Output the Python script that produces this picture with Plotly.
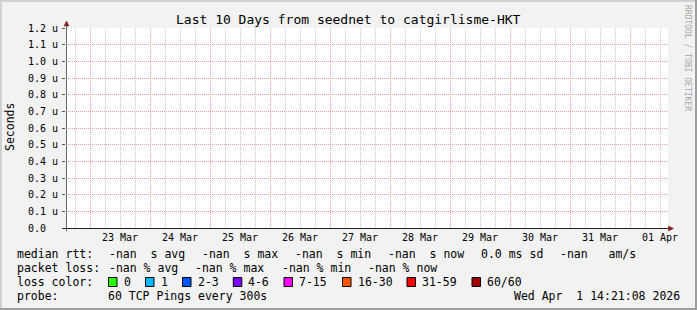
import plotly.graph_objects as go

# ---------------- data ----------------
title = "Last 10 Days from seednet to catgirlisme-HKT"
y_title = "Seconds"
watermark = "RRDTOOL / TOBI OETIKER"

day_starts = ["2026-03-23", "2026-03-24", "2026-03-25", "2026-03-26", "2026-03-27",
              "2026-03-28", "2026-03-29", "2026-03-30", "2026-03-31", "2026-04-01"]
day_labels = ["23 Mar", "24 Mar", "25 Mar", "26 Mar", "27 Mar",
              "28 Mar", "29 Mar", "30 Mar", "31 Mar", "01 Apr"]
x_start = "2026-03-22 14:24"
x_end = "2026-04-01 15:12"
minor_hours = ["06:00", "12:00", "18:00"]

y_tick_values = [0.0, 0.1e-6, 0.2e-6, 0.3e-6, 0.4e-6, 0.5e-6, 0.6e-6,
                 0.7e-6, 0.8e-6, 0.9e-6, 1.0e-6, 1.1e-6, 1.2e-6]
y_tick_labels = ["0.0  ", "0.1 u", "0.2 u", "0.3 u", "0.4 u", "0.5 u", "0.6 u",
                 "0.7 u", "0.8 u", "0.9 u", "1.0 u", "1.1 u", "1.2 u"]

# median RTT samples: all "-nan" in the source
rtt_times = ["2026-03-23", "2026-03-25", "2026-03-27", "2026-03-29", "2026-03-31"]
median_rtt = [None, None, None, None, None]

rtt_heading = "median rtt:"
rtt_stats = ["-nan  s avg", "-nan  s max", "-nan  s min", "-nan  s now", "0.0 ms sd", "-nan   am/s"]
loss_heading = "packet loss:"
loss_stats = ["-nan % avg", "-nan % max", "-nan % min", "-nan % now"]
color_heading = "loss color:"
loss_labels = ["0", "1", "2-3", "4-6", "7-15", "16-30", "31-59", "60/60"]
loss_colors = ["#26ff00", "#00b8ff", "#0059ff", "#7e00ff", "#ff00ff", "#ff5500", "#ff0000", "#a10000"]
probe_heading = "probe:"
probe_text = "60 TCP Pings every 300s"
timestamp = "Wed Apr  1 14:21:08 2026"

# ---------------- layout helpers ----------------
W, H = 697, 310
L, R, T, B = 66, 668, 28, 228
MONO = "DejaVu Sans Mono"
MINOR_GRID = "#c8c8c8"
MAJOR_GRID = "#f0a0a0"


def px(x):
    return (x - L) / (R - L)


def py(y):
    return (B - y) / (B - T)


def keep_spaces(s):
    return s.replace("  ", "\u00a0\u00a0")


# 6-hourly grid times, skipping the midnights (which get the red day grid)
minor_times = ["2026-03-22 18:00"] + [d + " " + h for d in day_starts for h in minor_hours]

fig = go.Figure()
fig.add_trace(go.Scatter(x=rtt_times, y=median_rtt, mode="lines",
                         line=dict(color="#000000", width=1), showlegend=False,
                         hoverinfo="skip", xaxis="x", yaxis="y"))
fig.add_trace(go.Scatter(x=[day_starts[0] + " 12:00"], y=[None], mode="markers",
                         showlegend=False, hoverinfo="skip", xaxis="x2", yaxis="y"))
fig.add_trace(go.Scatter(x=[day_starts[0]], y=[None], mode="markers",
                         showlegend=False, hoverinfo="skip", xaxis="x3", yaxis="y"))

fig.update_layout(
    width=W, height=H,
    margin=dict(l=L, r=W - R, t=T, b=H - B, pad=0),
    paper_bgcolor="#f2f2f2",
    plot_bgcolor="#ffffff",
    showlegend=False,
    # 6-hour minor grid (gray)
    xaxis=dict(
        type="date", range=[x_start, x_end],
        tickvals=minor_times,
        showgrid=True, gridcolor=MINOR_GRID, griddash="1px,1px", gridwidth=1,
        showticklabels=False, ticks="", showline=False, zeroline=False,
    ),
    # day labels at noon
    xaxis2=dict(
        type="date", range=[x_start, x_end], overlaying="x", anchor="y", side="bottom",
        tickvals=[d + " 12:00" for d in day_starts], ticktext=day_labels,
        showgrid=False, ticks="", showline=False, zeroline=False,
        tickfont=dict(family=MONO, size=10, color="#000000"),
        ticklabelstandoff=2,
    ),
    # daily major grid (red)
    xaxis3=dict(
        type="date", range=[x_start, x_end], overlaying="x", anchor="y", side="bottom",
        tickvals=day_starts,
        showgrid=True, gridcolor=MAJOR_GRID, griddash="1px,1px", gridwidth=1,
        showticklabels=False, ticks="", showline=False, zeroline=False,
    ),
    yaxis=dict(
        range=[0, 1.2e-6], tickvals=y_tick_values, ticktext=[keep_spaces(t) for t in y_tick_labels],
        showgrid=True, gridcolor=MAJOR_GRID, griddash="1px,1px", gridwidth=1,
        ticks="outside", ticklen=3, tickcolor="#555555", tickwidth=1,
        tickfont=dict(family=MONO, size=10, color="#000000"),
        showline=False, zeroline=False, ticklabelstandoff=2,
    ),
)

shapes = []
# frame shading
shapes.append(dict(type="rect", xref="paper", yref="paper", x0=px(0), x1=px(W), y0=py(0), y1=py(2),
                   fillcolor="#d0d0d0", line=dict(width=0), layer="above"))
shapes.append(dict(type="rect", xref="paper", yref="paper", x0=px(0), x1=px(2), y0=py(0), y1=py(H),
                   fillcolor="#d0d0d0", line=dict(width=0), layer="above"))
shapes.append(dict(type="rect", xref="paper", yref="paper", x0=px(W - 2), x1=px(W), y0=py(0), y1=py(H),
                   fillcolor="#9e9e9e", line=dict(width=0), layer="above"))
shapes.append(dict(type="rect", xref="paper", yref="paper", x0=px(0), x1=px(W), y0=py(H - 2), y1=py(H),
                   fillcolor="#9e9e9e", line=dict(width=0), layer="above"))
# axis lines
shapes.append(dict(type="line", xref="paper", yref="paper", x0=px(66.5), x1=px(66.5), y0=py(231), y1=py(25),
                   line=dict(color="#6a6a6a", width=1), layer="above"))
shapes.append(dict(type="line", xref="paper", yref="paper", x0=px(63), x1=px(670), y0=py(228.5), y1=py(228.5),
                   line=dict(color="#1f1f1f", width=1), layer="above"))
# arrows
shapes.append(dict(type="path", xref="paper", yref="paper",
                   path=f"M {px(64)} {py(26)} L {px(66.5)} {py(21)} L {px(69)} {py(26)} Z",
                   fillcolor="#801f1f", line=dict(color="#801f1f", width=0.5), layer="above"))
shapes.append(dict(type="path", xref="paper", yref="paper",
                   path=f"M {px(668.5)} {py(226)} L {px(673.5)} {py(228.5)} L {px(668.5)} {py(231)} Z",
                   fillcolor="#801f1f", line=dict(color="#801f1f", width=0.5), layer="above"))

annotations = []


def text(s, x, y, size=11.5, xanchor="left", color="#000000", angle=0, yanchor="middle"):
    annotations.append(dict(text=keep_spaces(s), x=px(x), y=py(y), xref="paper", yref="paper",
                            xanchor=xanchor, yanchor=yanchor, showarrow=False, borderpad=0,
                            textangle=angle, font=dict(family=MONO, size=size, color=color)))


text(title, 348, 19.5, size=13, xanchor="center")
text(y_title, 10, 127, size=11.5, xanchor="center", angle=-90)
text(watermark, 688, 58, size=8, xanchor="center", color="#a8a8a8", angle=90)

rows = [254.3, 268.3, 282.3, 296.3]
text(rtt_heading, 16, rows[0])
for s, x in zip(rtt_stats, [108, 201, 294, 387, 480, 559]):
    text(s, x, rows[0])
text(loss_heading, 16, rows[1])
for s, x in zip(loss_stats, [108, 194.3, 280.5, 367]):
    text(s, x, rows[1])
text(color_heading, 16, rows[2])
for lab, col, x in zip(loss_labels, loss_colors, [108.5, 145.5, 182.5, 233.3, 284, 342.5, 407, 472]):
    shapes.append(dict(type="rect", xref="paper", yref="paper", x0=px(x), x1=px(x + 8.5),
                       y0=py(277.5), y1=py(286.5), fillcolor=col,
                       line=dict(color="#000000", width=1), layer="above"))
    text(lab, x + 14, rows[2])
text(probe_heading, 16, rows[3])
text(probe_text, 107, rows[3])
text(timestamp, 681, rows[3], xanchor="right")

fig.update_layout(shapes=shapes, annotations=annotations)
fig.write_html("out.html")
